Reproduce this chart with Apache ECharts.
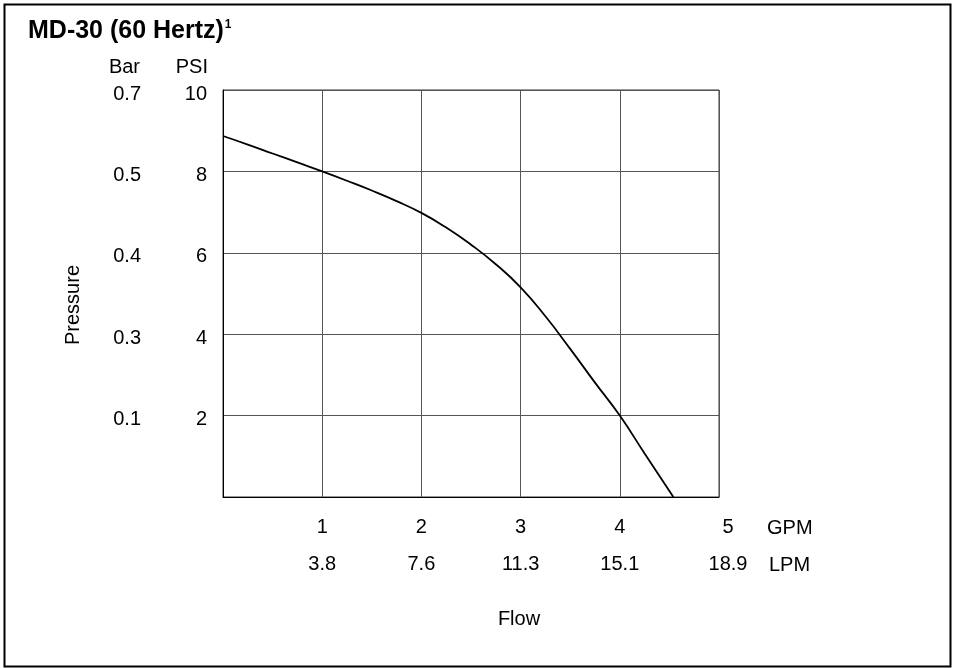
<!DOCTYPE html>
<html><head><meta charset="utf-8">
<script src="https://cdn.jsdelivr.net/npm/echarts@6/dist/echarts.min.js"></script>
<style>html,body{margin:0;padding:0;background:#fff}#c{width:953px;height:668px}</style>
</head><body><div id="c"></div>
<script>
// Data
const flowGpm     = [0,    0.25, 0.5,  0.75, 1,   1.25, 1.5,  1.75, 2,    2.25, 2.5, 2.75, 3,    3.25, 3.5,  3.75, 4,   4.25, 4.5,  4.54];
const pressurePsi = [8.87, 8.66, 8.44, 8.22, 8.0, 7.77, 7.53, 7.27, 6.98, 6.62, 6.2, 5.72, 5.15, 4.44, 3.64, 2.81, 2.0, 1.07, 0.15, 0];
const gpmTicks = ['', '1', '2', '3', '4', '5'];
const lpmTicks = ['', '3.8', '7.6', '11.3', '15.1', '18.9'];
const psiTicks = ['', '2', '4', '6', '8', '10'];
const barTicks = ['', '0.1', '0.3', '0.4', '0.5', '0.7'];

const FONT = 'Liberation Sans, Arial, sans-serif';
const FS = 20;
const chart = echarts.init(document.getElementById('c'), null, {renderer: 'canvas'});
const lbl = {color: '#000', fontFamily: FONT, fontSize: FS};
const xRich = {e: {fontFamily: FONT, fontSize: FS, color: '#000', padding: [0, 0, 0, 18]}};
const yRich = {a: {fontFamily: FONT, fontSize: FS, color: '#000', padding: [8, 0, 0, 0]}};
const xFmt = arr => v => {
  const i = Math.round(v);
  const s = arr[i] || '';
  return (i === arr.length - 1 && s) ? '{e|' + s + '}' : s;
};
const yFmt = arr => v => {
  const s = arr[Math.round(v / 2)] || '';
  return s ? '{a|' + s + '}' : '';
};
chart.setOption({
  animation: false,
  backgroundColor: '#fff',
  title: {
    text: '{t|MD-30 (60 Hertz)}{s|1}',
    left: 23, top: 14,
    textStyle: {rich: {
      t: {fontFamily: FONT, fontWeight: 'bold', fontSize: 25, color: '#000'},
      s: {fontFamily: FONT, fontWeight: 'bold', fontSize: 12, color: '#000', verticalAlign: 'top', padding: [0,0,10,1]}
    }}
  },
  grid: {left: 223, top: 90, width: 496, height: 407, show: true, borderColor: '#333', borderWidth: 1, containLabel: false},
  xAxis: [
    {type: 'value', min: 0, max: 5, interval: 1, position: 'bottom',
     axisLine: {show: true, lineStyle: {color: '#000'}}, axisTick: {show: false},
     splitLine: {show: true, lineStyle: {color: '#555', width: 1}},
     axisLabel: Object.assign({margin: 20, formatter: xFmt(gpmTicks), rich: xRich}, lbl)},
    {type: 'value', min: 0, max: 5, interval: 1, position: 'bottom', offset: 37,
     axisLine: {show: false}, axisTick: {show: false}, splitLine: {show: false},
     axisLabel: Object.assign({margin: 20, formatter: xFmt(lpmTicks), rich: xRich}, lbl)}
  ],
  yAxis: [
    {type: 'value', min: 0, max: 10, interval: 2, position: 'left',
     axisLine: {show: true, lineStyle: {color: '#000'}}, axisTick: {show: false},
     splitLine: {show: true, lineStyle: {color: '#555', width: 1}},
     axisLabel: Object.assign({margin: 16, formatter: yFmt(psiTicks), rich: yRich}, lbl)},
    {type: 'value', min: 0, max: 10, interval: 2, position: 'left', offset: 66,
     axisLine: {show: false}, axisTick: {show: false}, splitLine: {show: false},
     axisLabel: Object.assign({margin: 16, formatter: yFmt(barTicks), rich: yRich}, lbl)}
  ],
  series: [{
    type: 'line', xAxisIndex: 0, yAxisIndex: 0, smooth: 0.5, symbol: 'none',
    lineStyle: {color: '#000', width: 1.8},
    data: flowGpm.map((x, i) => [x, pressurePsi[i]])
  }],
  graphic: [
    {type: 'rect', left: 2, top: 2, shape: {width: 946, height: 662}, style: {fill: 'none', stroke: '#000', lineWidth: 2}, silent: true},
    {type: 'text', x: 140, y: 67, style: {text: 'Bar', font: FS + 'px ' + FONT, fill: '#000', align: 'right', verticalAlign: 'middle'}},
    {type: 'text', x: 208, y: 67, style: {text: 'PSI', font: FS + 'px ' + FONT, fill: '#000', align: 'right', verticalAlign: 'middle'}},
    {type: 'text', x: 767, y: 528, style: {text: 'GPM', font: FS + 'px ' + FONT, fill: '#000', align: 'left', verticalAlign: 'middle'}},
    {type: 'text', x: 769, y: 565, style: {text: 'LPM', font: FS + 'px ' + FONT, fill: '#000', align: 'left', verticalAlign: 'middle'}},
    {type: 'text', x: 519, y: 619, style: {text: 'Flow', font: FS + 'px ' + FONT, fill: '#000', align: 'center', verticalAlign: 'middle'}},
    {type: 'text', x: 73, y: 305, rotation: Math.PI / 2, style: {text: 'Pressure', font: FS + 'px ' + FONT, fill: '#000', align: 'center', verticalAlign: 'middle'}}
  ]
});
</script></body></html>
